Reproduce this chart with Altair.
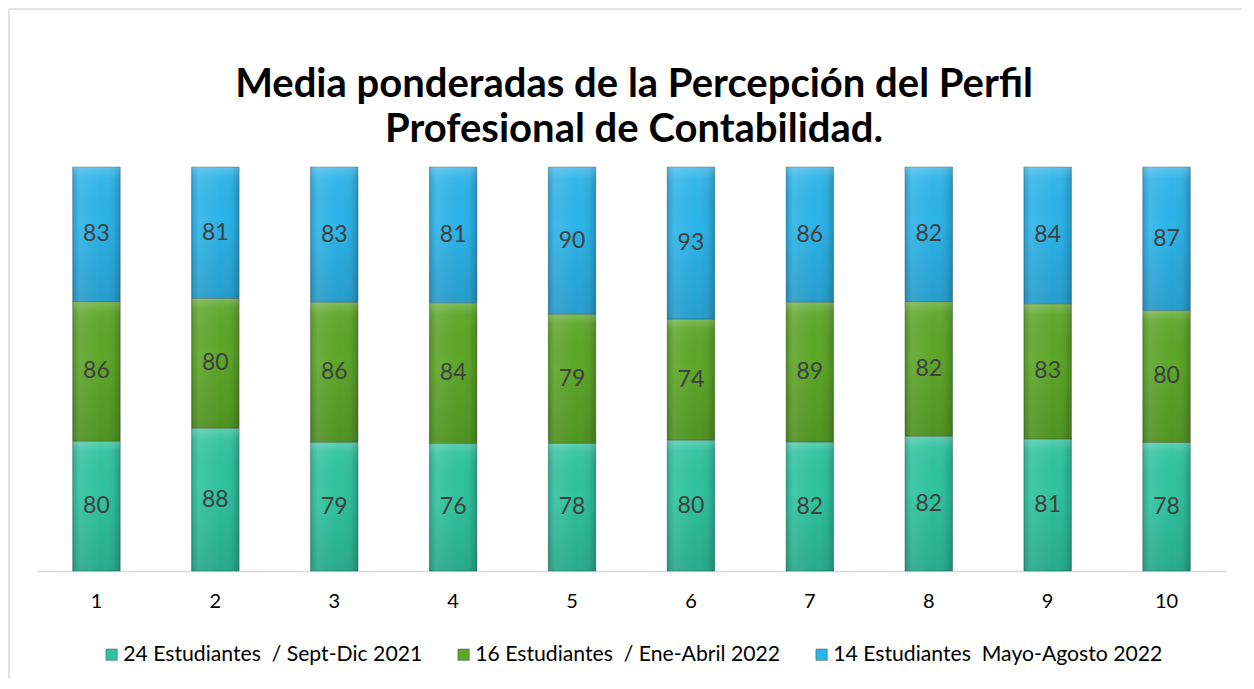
import altair as alt
import pandas as pd

categories = ["1", "2", "3", "4", "5", "6", "7", "8", "9", "10"]
series_names = [
    "24 Estudiantes\u00a0\u00a0/ Sept-Dic 2021",
    "16 Estudiantes\u00a0\u00a0/ Ene-Abril 2022",
    "14 Estudiantes\u00a0\u00a0Mayo-Agosto 2022",
]
sept_dic = [80, 88, 79, 76, 78, 80, 82, 82, 81, 78]
ene_abril = [86, 80, 86, 84, 79, 74, 89, 82, 83, 80]
mayo_agosto = [83, 81, 83, 81, 90, 93, 86, 82, 84, 87]
colors = ["#2fc29e", "#5ca628", "#2cb3e8"]
title_lines = ["Media ponderadas de la Percepción del Perfil", "Profesional de Contabilidad."]

rows = []
for i, c in enumerate(categories):
    for k, vals in enumerate([sept_dic, ene_abril, mayo_agosto]):
        rows.append({"cat": c, "serie": series_names[k], "ord": k, "value": vals[i]})
df = pd.DataFrame(rows)

FONT = "Lato"

base = alt.Chart(df).transform_stack(
    stack="value", groupby=["cat"], sort=[{"field": "ord", "order": "ascending"}],
    offset="normalize", as_=["y0", "y1"]
).transform_calculate(mid="(datum.y0 + datum.y1) / 2")

xenc = alt.X(
    "cat:N", sort=categories, title=None,
    scale=alt.Scale(paddingInner=0.6, paddingOuter=0.3),
    axis=alt.Axis(labelAngle=0, labelFontSize=20, labelColor="#000000", labelFont=FONT,
                  ticks=False, domainColor="#d9d9d9", domainWidth=1.5, labelPadding=20),
)
yenc = alt.Y("y0:Q", scale=alt.Scale(domain=[0, 1]), axis=None)

bars = base.mark_bar(stroke="#000000", strokeOpacity=0.25, strokeWidth=1).encode(
    x=xenc,
    y=yenc,
    y2="y1:Q",
    color=alt.Color(
        "serie:N",
        scale=alt.Scale(domain=series_names, range=colors),
        legend=alt.Legend(
            title=None, orient="none", legendX=64, legendY=477, direction="horizontal",
            columns=3, columnPadding=30, symbolType="square", symbolSize=130,
            labelOffset=1,
            labelFontSize=21.2, labelFont=FONT, labelColor="#000000", labelLimit=450,
            symbolStrokeWidth=0.5, symbolStrokeColor="#555555",
        ),
    ),
)

shade_h = base.mark_bar(
    fill=alt.Gradient(
        gradient="linear", x1=0, x2=1, y1=0, y2=0,
        stops=[
            alt.GradientStop(color="rgba(0,0,0,0.14)", offset=0),
            alt.GradientStop(color="rgba(255,255,255,0.10)", offset=0.15),
            alt.GradientStop(color="rgba(255,255,255,0)", offset=0.6),
            alt.GradientStop(color="rgba(0,0,0,0.04)", offset=0.85),
            alt.GradientStop(color="rgba(0,0,0,0.2)", offset=1),
        ],
    )
).encode(x=alt.X("cat:N", sort=categories), y=yenc, y2="y1:Q")

shade_v = base.mark_bar(
    fill=alt.Gradient(
        gradient="linear", x1=0, x2=0, y1=0, y2=1,
        stops=[
            alt.GradientStop(color="rgba(255,255,255,0.22)", offset=0),
            alt.GradientStop(color="rgba(255,255,255,0.05)", offset=0.08),
            alt.GradientStop(color="rgba(0,0,0,0)", offset=0.4),
            alt.GradientStop(color="rgba(0,0,0,0.12)", offset=1),
        ],
    )
).encode(x=alt.X("cat:N", sort=categories), y=yenc, y2="y1:Q")

labels = base.mark_text(fontSize=23, font=FONT, color="#404040").encode(
    x=alt.X("cat:N", sort=categories),
    y=alt.Y("mid:Q", scale=alt.Scale(domain=[0, 1])),
    text="value:Q",
)

one = pd.DataFrame({"a": [0]})
left_line = alt.Chart(one).mark_rule(color="#d9d9d9", strokeWidth=1.5).encode(
    x=alt.value(-28), y=alt.value(-158), y2=alt.value(512)
)
top_line = alt.Chart(one).mark_rule(color="#d9d9d9", strokeWidth=1.5).encode(
    x=alt.value(-28), x2=alt.value(1205), y=alt.value(-158)
)
title1 = alt.Chart(one).mark_text(
    fontSize=40, font=FONT, fontWeight="bold", color="#000000", baseline="middle"
).encode(x=alt.value(597), y=alt.value(-82), text=alt.value(title_lines[0]))
title2 = alt.Chart(one).mark_text(
    fontSize=40, font=FONT, fontWeight="bold", color="#000000", baseline="middle"
).encode(x=alt.value(597), y=alt.value(-37), text=alt.value(title_lines[1]))

chart = alt.layer(left_line, top_line, title1, title2, bars, shade_h, shade_v, labels).properties(
    width=1189, height=404,
    padding={"left": 0, "top": 0, "right": 0, "bottom": 0},
).configure_view(stroke=None)

chart.save("out.html", embed_options={"renderer": "svg", "actions": False})
